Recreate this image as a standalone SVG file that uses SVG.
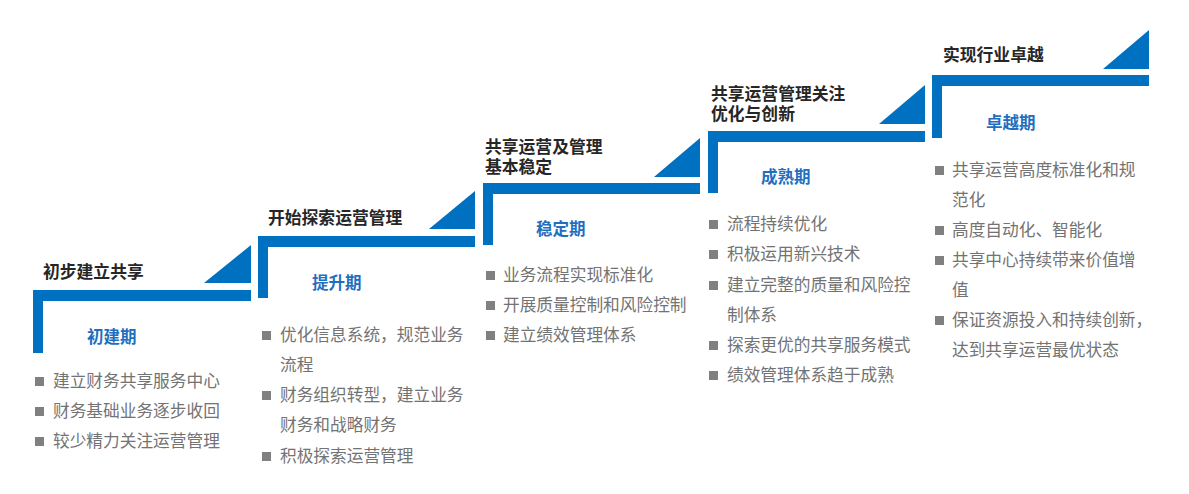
<svg xmlns="http://www.w3.org/2000/svg" width="1189" height="494" viewBox="0 0 1189 494">
<style>
.step{fill:#0070C0}
.title{font-family:"Liberation Sans","Noto Sans CJK SC",sans-serif;font-weight:bold;font-size:16.8px;fill:#262626}
.phase{font-family:"Liberation Sans","Noto Sans CJK SC",sans-serif;font-weight:bold;font-size:16.5px;fill:#1F6FC0}
.body{font-family:"Liberation Sans","Noto Sans CJK SC",sans-serif;font-size:16.7px;fill:#737373}
.bul{fill:#808080}
</style>
<rect width="1189" height="494" fill="#ffffff"/>
<g id="connectors"></g>

<g id="stage1">
<path class="step" d="M33,290 H251 V301 H43 V353 H33 Z"/>
<path class="step" d="M204,283 L251,245 L251,283 Z"/>
<text class="title" x="43" y="278">初步建立共享</text>
<text class="phase" x="87" y="343">初建期</text>
<rect class="bul" x="35" y="377" width="9" height="9"/>
<text class="body" x="53" y="387">建立财务共享服务中心</text>
<rect class="bul" x="35" y="407" width="9" height="9"/>
<text class="body" x="53" y="417">财务基础业务逐步收回</text>
<rect class="bul" x="35" y="437" width="9" height="9"/>
<text class="body" x="53" y="447">较少精力关注运营管理</text>
</g>

<g id="stage2">
<path class="step" d="M258,236 H475 V247 H268 V298 H258 Z"/>
<path class="step" d="M429,229 L475,191 L475,229 Z"/>
<text class="title" x="268" y="224">开始探索运营管理</text>
<text class="phase" x="312" y="289">提升期</text>
<rect class="bul" x="262" y="331" width="9" height="9"/>
<text class="body" x="280" y="341">优化信息系统，规范业务</text>
<text class="body" x="280" y="371">流程</text>
<rect class="bul" x="262" y="391" width="9" height="9"/>
<text class="body" x="280" y="401">财务组织转型，建立业务</text>
<text class="body" x="280" y="431">财务和战略财务</text>
<rect class="bul" x="262" y="452" width="9" height="9"/>
<text class="body" x="280" y="462">积极探索运营管理</text>
</g>

<g id="stage3">
<path class="step" d="M483,183 H700 V194 H493 V245 H483 Z"/>
<path class="step" d="M654,177 L700,138 L700,177 Z"/>
<text class="title" x="485" y="153">共享运营及管理</text>
<text class="title" x="485" y="173">基本稳定</text>
<text class="phase" x="536" y="235">稳定期</text>
<rect class="bul" x="486" y="271" width="9" height="9"/>
<text class="body" x="503" y="281">业务流程实现标准化</text>
<rect class="bul" x="486" y="301" width="9" height="9"/>
<text class="body" x="503" y="311">开展质量控制和风险控制</text>
<rect class="bul" x="486" y="331" width="9" height="9"/>
<text class="body" x="503" y="341">建立绩效管理体系</text>
</g>

<g id="stage4">
<path class="step" d="M708,131 H925 V142 H718 V193 H708 Z"/>
<path class="step" d="M879,124 L925,85 L925,124 Z"/>
<text class="title" x="711" y="100">共享运营管理关注</text>
<text class="title" x="711" y="120">优化与创新</text>
<text class="phase" x="761" y="183">成熟期</text>
<rect class="bul" x="709" y="220" width="9" height="9"/>
<text class="body" x="727" y="230">流程持续优化</text>
<rect class="bul" x="709" y="250" width="9" height="9"/>
<text class="body" x="727" y="260">积极运用新兴技术</text>
<rect class="bul" x="709" y="281" width="9" height="9"/>
<text class="body" x="727" y="291">建立完整的质量和风险控</text>
<text class="body" x="727" y="321">制体系</text>
<rect class="bul" x="709" y="341" width="9" height="9"/>
<text class="body" x="727" y="351">探索更优的共享服务模式</text>
<rect class="bul" x="709" y="371" width="9" height="9"/>
<text class="body" x="727" y="381">绩效管理体系趋于成熟</text>
</g>

<g id="stage5">
<path class="step" d="M932,75 H1149 V86 H942 V138 H932 Z"/>
<path class="step" d="M1103,69 L1149,30 L1149,69 Z"/>
<text class="title" x="943" y="61">实现行业卓越</text>
<text class="phase" x="986" y="129">卓越期</text>
<rect class="bul" x="935" y="166" width="9" height="9"/>
<text class="body" x="952" y="176">共享运营高度标准化和规</text>
<text class="body" x="952" y="206">范化</text>
<rect class="bul" x="935" y="226" width="9" height="9"/>
<text class="body" x="952" y="236">高度自动化、智能化</text>
<rect class="bul" x="935" y="256" width="9" height="9"/>
<text class="body" x="952" y="266">共享中心持续带来价值增</text>
<text class="body" x="952" y="296">值</text>
<rect class="bul" x="935" y="316" width="9" height="9"/>
<text class="body" x="952" y="326">保证资源投入和持续创新，</text>
<text class="body" x="952" y="356">达到共享运营最优状态</text>
</g>
</svg>
